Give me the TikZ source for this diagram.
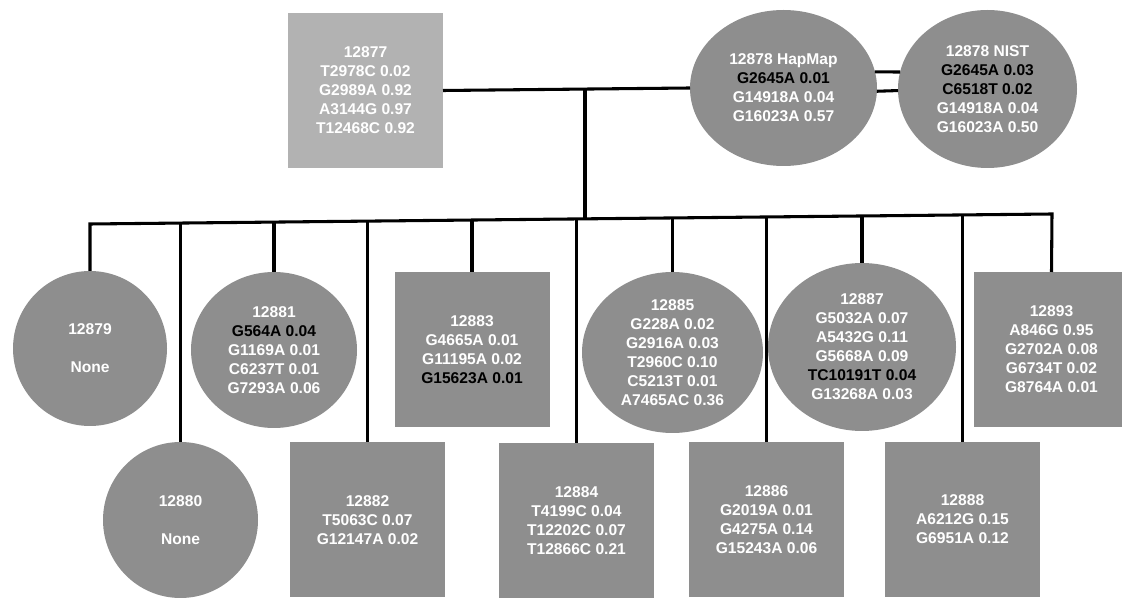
\documentclass[tikz,border=0pt]{standalone}
\usepackage{fontspec}
\setmainfont{Liberation Sans}
\usetikzlibrary{shapes.geometric}
\definecolor{nodegray}{RGB}{142,142,142}
\definecolor{palegray}{RGB}{178,178,178}
\newcommand\darktxt[1]{\textcolor{black}{#1}}
\begin{document}
\begin{tikzpicture}[x=0.75pt,y=-0.75pt,
  lbl/.style={text=white,font=\fontsize{11.7}{14.25}\selectfont\bfseries,align=center,inner sep=0pt,outer sep=0pt},
  sq/.style={lbl,rectangle,fill=nodegray,minimum width=116.25pt,minimum height=116.25pt},
  ov/.style={lbl,ellipse,fill=nodegray},
  link/.style={line width=2.3pt,black,line join=miter}]
\useasboundingbox (0,0) rectangle (1122,598);

% top generation
\node[sq,fill=palegray] (n12877) at (365.5,90.5) {12877\\T2978C 0.02\\G2989A 0.92\\A3144G 0.97\\T12468C 0.92};
\node[ov,minimum width=140.25pt,minimum height=117pt] (hap) at (783.5,88) {12878 HapMap\\\darktxt{G2645A 0.01}\\G14918A 0.04\\G16023A 0.57};
\node[ov,minimum width=134.25pt,minimum height=118.5pt] (nist) at (987.5,89) {12878 NIST\\\darktxt{G2645A 0.03}\\\darktxt{C6518T 0.02}\\G14918A 0.04\\G16023A 0.50};

% children, upper row
\node[ov,minimum width=115.5pt,minimum height=116.25pt] (n12879) at (90,348.5) {12879\\[14.25pt]None};
\node[ov,minimum width=124.5pt,minimum height=117pt] (n12881) at (274,350) {12881\\\darktxt{G564A 0.04}\\G1169A 0.01\\C6237T 0.01\\G7293A 0.06};
\node[sq] (n12883) at (472,349.5) {12883\\G4665A 0.01\\G11195A 0.02\\\darktxt{G15623A 0.01}};
\node[ov,minimum width=135.75pt,minimum height=120.75pt] (n12885) at (672.5,352.5) {12885\\G228A 0.02\\G2916A 0.03\\T2960C 0.10\\C5213T 0.01\\A7465AC 0.36};
\node[ov,minimum width=141pt,minimum height=126pt] (n12887) at (862,347) {12887\\G5032A 0.07\\A5432G 0.11\\G5668A 0.09\\\darktxt{TC10191T 0.04}\\G13268A 0.03};
\node[sq] (n12893) at (1051.5,349.5) {12893\\A846G 0.95\\G2702A 0.08\\G6734T 0.02\\G8764A 0.01};

% children, lower row
\node[ov,minimum width=116.25pt,minimum height=117pt] (n12880) at (180.5,520) {12880\\[14.25pt]None};
\node[sq] (n12882) at (367.5,520) {12882\\T5063C 0.07\\G12147A 0.02};
\node[sq] (n12884) at (576.5,521) {12884\\T4199C 0.04\\T12202C 0.07\\T12866C 0.21};
\node[sq] (n12886) at (766.5,520) {12886\\G2019A 0.01\\G4275A 0.14\\G15243A 0.06};
\node[sq] (n12888) at (962.5,519.5) {12888\\A6212G 0.15\\G6951A 0.12};

% parents' lines
\draw[link] (n12877.east) -- (hap.west);
\draw[link] (hap.10) -- (nist.169);
\draw[link] (hap.-2) -- (nist.181);
\coordinate (jt) at (585,88.5);
\coordinate (jb) at (585,218.9);
\draw[link] (jt) -- (jb);

% sibling bus
\coordinate (busL) at (90,224);
\coordinate (busR) at (1052,214);
\draw[link] (n12879.north) -- (busL) -- (busR) -- (n12893.north);
\coordinate (j80) at (180.5,223.1);
\coordinate (j81) at (274,222.1);
\coordinate (j82) at (367.5,221.1);
\coordinate (j83) at (472,220.0);
\coordinate (j84) at (576.5,218.9);
\coordinate (j85) at (672.5,217.9);
\coordinate (j86) at (766.5,217.0);
\coordinate (j87) at (862,216.0);
\coordinate (j88) at (962.5,214.9);
\draw[link] (j80) -- (n12880.north);
\draw[link] (j81) -- (n12881.north);
\draw[link] (j82) -- (n12882.north);
\draw[link] (j83) -- (n12883.north);
\draw[link] (j84) -- (n12884.north);
\draw[link] (j85) -- (n12885.north);
\draw[link] (j86) -- (n12886.north);
\draw[link] (j87) -- (n12887.north);
\draw[link] (j88) -- (n12888.north);
\end{tikzpicture}
\end{document}
